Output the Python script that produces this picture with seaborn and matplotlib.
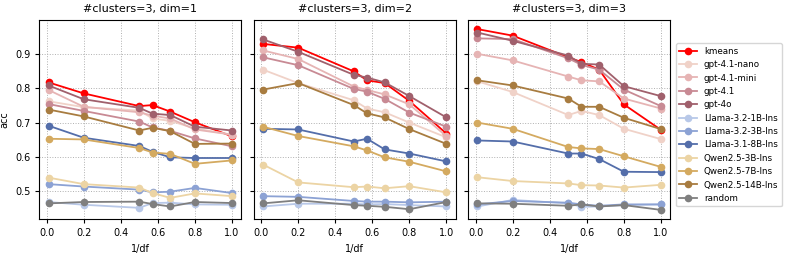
"""
    Accuracy vs 1/df for kmeans, LLMs and a random baseline,
    one panel per dimension (3 clusters each).
"""
import matplotlib
matplotlib.use('Agg')
import matplotlib.pyplot as plt
import seaborn as sns
import numpy as np
import pandas as pd

# x values (1/df)
inv_df = [0.01, 0.2, 0.5, 0.5714, 0.6667, 0.8, 1.0]

methods = ['kmeans', 'gpt-4.1-nano', 'gpt-4.1-mini', 'gpt-4.1', 'gpt-4o',
           'Llama-3.2-1B-Ins', 'Llama-3.2-3B-Ins', 'Llama-3.1-8B-Ins',
           'Qwen2.5-3B-Ins', 'Qwen2.5-7B-Ins', 'Qwen2.5-14B-Ins', 'random']

colors = ['#ff0000', '#f0d2c8', '#e6b4b4', '#c88a94', '#a0606c',
          '#b8c8e8', '#8ca2d4', '#546eaa',
          '#ecd4a4', '#d4aa60', '#a87c40', '#7f7f7f']

# dim=1
acc_dim1 = {
    'kmeans':           [0.817, 0.785, 0.748, 0.751, 0.732, 0.701, 0.660],
    'gpt-4.1-nano':     [0.762, 0.745, 0.735, 0.712, 0.705, 0.683, 0.665],
    'gpt-4.1-mini':     [0.795, 0.746, 0.730, 0.720, 0.712, 0.680, 0.665],
    'gpt-4.1':          [0.754, 0.734, 0.703, 0.686, 0.676, 0.654, 0.631],
    'gpt-4o':           [0.808, 0.768, 0.743, 0.726, 0.722, 0.688, 0.677],
    'Llama-3.2-1B-Ins': [0.469, 0.461, 0.452, 0.466, 0.467, 0.462, 0.461],
    'Llama-3.2-3B-Ins': [0.521, 0.514, 0.505, 0.497, 0.499, 0.510, 0.495],
    'Llama-3.1-8B-Ins': [0.691, 0.656, 0.632, 0.615, 0.599, 0.597, 0.597],
    'Qwen2.5-3B-Ins':   [0.540, 0.521, 0.511, 0.495, 0.481, 0.494, 0.486],
    'Qwen2.5-7B-Ins':   [0.653, 0.651, 0.626, 0.613, 0.609, 0.580, 0.590],
    'Qwen2.5-14B-Ins':  [0.738, 0.718, 0.677, 0.685, 0.675, 0.638, 0.639],
    'random':           [0.465, 0.469, 0.470, 0.463, 0.456, 0.469, 0.466],
}

# dim=2
acc_dim2 = {
    'kmeans':           [0.929, 0.918, 0.849, 0.823, 0.815, 0.763, 0.668],
    'gpt-4.1-nano':     [0.854, 0.815, 0.765, 0.741, 0.730, 0.700, 0.657],
    'gpt-4.1-mini':     [0.910, 0.885, 0.805, 0.795, 0.782, 0.753, 0.660],
    'gpt-4.1':          [0.890, 0.867, 0.798, 0.790, 0.769, 0.729, 0.688],
    'gpt-4o':           [0.942, 0.906, 0.839, 0.831, 0.817, 0.777, 0.715],
    'Llama-3.2-1B-Ins': [0.456, 0.464, 0.464, 0.462, 0.463, 0.460, 0.456],
    'Llama-3.2-3B-Ins': [0.486, 0.484, 0.472, 0.470, 0.470, 0.468, 0.470],
    'Llama-3.1-8B-Ins': [0.682, 0.680, 0.645, 0.653, 0.622, 0.610, 0.587],
    'Qwen2.5-3B-Ins':   [0.578, 0.526, 0.512, 0.514, 0.509, 0.515, 0.497],
    'Qwen2.5-7B-Ins':   [0.688, 0.661, 0.631, 0.619, 0.599, 0.586, 0.558],
    'Qwen2.5-14B-Ins':  [0.796, 0.815, 0.751, 0.727, 0.715, 0.681, 0.638],
    'random':           [0.465, 0.474, 0.460, 0.458, 0.455, 0.448, 0.469],
}

# dim=3
acc_dim3 = {
    'kmeans':           [0.972, 0.953, 0.890, 0.876, 0.854, 0.753, 0.679],
    'gpt-4.1-nano':     [0.820, 0.789, 0.722, 0.734, 0.722, 0.682, 0.652],
    'gpt-4.1-mini':     [0.900, 0.881, 0.834, 0.823, 0.820, 0.770, 0.741],
    'gpt-4.1':          [0.945, 0.943, 0.887, 0.868, 0.854, 0.796, 0.748],
    'gpt-4o':           [0.962, 0.938, 0.895, 0.871, 0.869, 0.806, 0.777],
    'Llama-3.2-1B-Ins': [0.456, 0.475, 0.465, 0.455, 0.456, 0.460, 0.462],
    'Llama-3.2-3B-Ins': [0.462, 0.472, 0.467, 0.462, 0.458, 0.462, 0.462],
    'Llama-3.1-8B-Ins': [0.648, 0.645, 0.610, 0.610, 0.594, 0.557, 0.556],
    'Qwen2.5-3B-Ins':   [0.541, 0.530, 0.523, 0.518, 0.517, 0.511, 0.519],
    'Qwen2.5-7B-Ins':   [0.700, 0.682, 0.629, 0.625, 0.623, 0.602, 0.571],
    'Qwen2.5-14B-Ins':  [0.823, 0.808, 0.770, 0.746, 0.746, 0.714, 0.681],
    'random':           [0.465, 0.464, 0.458, 0.462, 0.456, 0.460, 0.446],
}

dims = [1, 2, 3]
all_acc = [acc_dim1, acc_dim2, acc_dim3]

rows = []
for d, acc in zip(dims, all_acc):
    for m in methods:
        for x, y in zip(inv_df, acc[m]):
            rows.append({'dim': d, 'method': m, '1/df': x, 'acc': y})
df = pd.DataFrame(rows)

palette = dict(zip(methods, colors))

fig, axes = plt.subplots(1, 3, figsize=(7.93, 2.54), dpi=100, sharey=True)
fig.subplots_adjust(left=0.0496, right=0.845, top=0.921, bottom=0.138,
                    wspace=0.063)

for ax, d in zip(axes, dims):
    sub = df[df['dim'] == d]
    sns.lineplot(data=sub, x='1/df', y='acc', hue='method',
                 hue_order=methods, palette=palette, marker='o',
                 markersize=5.5, markeredgewidth=0, linewidth=1.3, ax=ax,
                 legend=(d == 3))
    ax.set_title('#clusters=3, dim=%d' % d, fontsize=8)
    ax.set_xlabel('1/df', fontsize=7)
    ax.set_ylabel('acc' if d == 1 else '', fontsize=7)
    ax.set_xticks([0.0, 0.2, 0.4, 0.6, 0.8, 1.0])
    ax.tick_params(labelsize=7, length=3)
    ax.grid(True, linestyle=':', color='#b0b0b0', linewidth=0.7)

handles, labels = axes[2].get_legend_handles_labels()
axes[2].get_legend().remove()
fig.legend(handles, labels, loc='upper left', bbox_to_anchor=(0.849, 0.84),
           fontsize=6.3, frameon=True, handlelength=2.0, labelspacing=0.5,
           borderaxespad=0.3)

fig.savefig('out.png', dpi=100)
